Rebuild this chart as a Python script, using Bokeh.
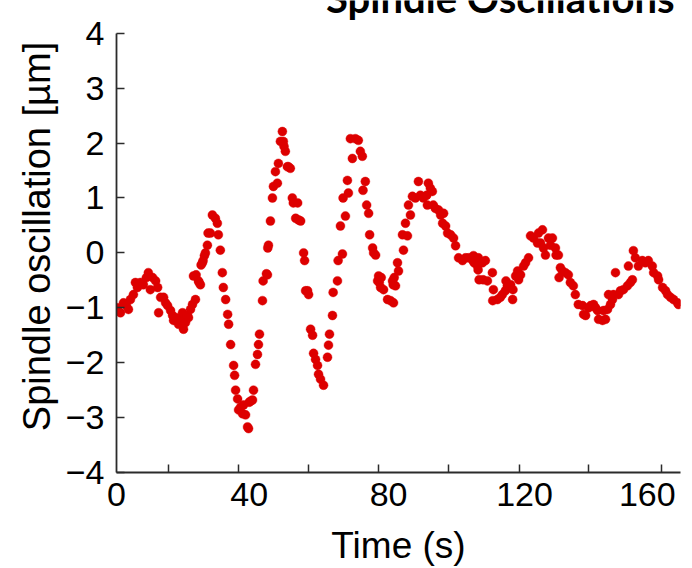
from bokeh.plotting import figure
from bokeh.models import Range1d, FixedTicker, Label
from bokeh.embed import file_html
from bokeh.resources import INLINE

# ---- data ----
time_s = [
    0.0, 0.3, 1.2, 2.1, 3.0, 3.6, 4.2, 5.1, 5.7, 6.3, 7.2, 8.1, 9.0, 9.6, 10.2, 10.9, 11.8, 12.4, 12.7, 13.3,
    14.2, 14.8, 15.4, 16.3, 16.9, 17.2, 18.1, 18.7, 19.3, 19.9, 20.2, 20.8, 21.4, 21.7, 22.3, 22.9, 23.2, 23.8,
    24.0, 24.7, 24.9, 25.3, 25.5, 25.9, 26.1, 26.5, 26.8, 27.4, 27.6, 28.3, 28.9, 29.8, 30.4, 30.7, 31.3, 31.9,
    32.2, 32.9, 33.5, 33.8, 34.4, 35.3, 35.6, 35.9, 36.5, 36.8, 37.4, 38.0, 38.3, 38.9, 39.5, 39.8, 40.0, 40.4,
    41.0, 41.3, 41.9, 42.5, 42.8, 43.1, 44.0, 44.2, 45.2, 45.5, 45.6, 45.8, 46.4, 47.0, 47.3, 47.9, 48.5, 48.8,
    49.4, 50.0, 50.3, 50.5, 50.9, 51.5, 51.8, 52.4, 53.0, 53.3, 54.0, 54.6, 54.9, 55.5, 56.4, 56.7, 57.0, 57.6,
    57.9, 58.5, 59.1, 59.4, 60.0, 60.6, 60.9, 61.5, 62.4, 63.6, 63.9, 64.2, 65.1, 65.3, 66.6, 66.8, 67.5, 68.1,
    68.3, 69.0, 69.6, 69.9, 70.5, 71.1, 72.0, 72.9, 73.5, 74.1, 74.3, 75.0, 75.4, 76.0, 76.3, 77.2, 77.5, 78.1,
    78.7, 79.0, 79.2, 79.6, 79.8, 80.5, 81.7, 82.6, 83.2, 83.4, 83.5, 83.7, 84.1, 84.7, 85.0, 86.2, 86.5, 87.1,
    87.7, 88.0, 88.6, 89.2, 90.1, 91.0, 91.6, 92.5, 93.5, 93.7, 94.0, 94.6, 95.2, 95.5, 96.1, 97.1, 97.7, 98.3,
    98.6, 99.2, 99.8, 100.7, 101.6, 102.2, 103.1, 104.3, 105.2, 106.1, 107.3, 107.6, 107.8, 108.8, 109.0, 109.1,
    109.3, 110.3, 110.5, 111.2, 111.8, 113.3, 113.4, 113.6, 114.8, 115.7, 116.3, 117.2, 117.4, 117.8, 118.8,
    119.4, 119.5, 120.3, 120.9, 121.2, 121.8, 122.7, 123.3, 124.2, 124.8, 125.7, 126.9, 127.2, 127.8, 128.4,
    128.7, 129.3, 130.2, 130.8, 131.4, 132.3, 132.5, 133.2, 133.4, 133.8, 134.4, 135.3, 136.2, 136.8, 137.7,
    138.3, 139.2, 140.5, 140.8, 141.4, 142.3, 142.9, 143.8, 144.4, 145.0, 145.3, 146.5, 146.8, 147.4, 148.0,
    148.3, 148.9, 149.5, 149.8, 150.4, 151.3, 151.9, 152.8, 154.0, 154.3, 154.9, 155.5, 155.8, 156.4, 157.3,
    158.5, 159.4, 160.3, 161.5, 161.9, 163.1, 163.4, 164.6, 165.5, 166.1, 167.0, 167.9, 169.1, 169.4,
]
oscillation_um = [
    -1.05, -1.00, -1.09, -0.91, -0.96, -1.03, -0.85, -0.76, -0.54, -0.63, -0.54, -0.58, -0.45, -0.36, -0.67, -0.45, -0.51, -0.63, -1.09, -0.81,
    -0.81, -0.91, -0.96, -1.05, -1.14, -1.23, -1.18, -1.30, -1.21, -1.09, -1.39, -1.27, -1.14, -1.18, -1.03, -0.94, -0.42, -0.85,
    -0.40, -0.51, -0.54, -0.58, -0.22, -0.18, -0.14, -0.05, 0.00, 0.14, 0.36, 0.36, 0.69, 0.63, 0.54, 0.33, 0.05, -0.36,
    -0.63, -0.85, -1.12, -1.30, -1.67, -2.05, -2.23, -2.50, -2.66, -2.86, -2.81, -2.93, -2.77, -2.95, -3.17, -3.20, -2.72, -2.70,
    -2.68, -2.50, -2.03, -1.85, -1.67, -1.48, -0.87, -0.51, -0.38, -0.40, 0.09, 0.14, 0.58, 1.00, 1.21, 1.48, 1.27, 1.63,
    2.03, 2.21, 2.03, 1.94, 1.85, 1.57, 1.57, 1.54, 1.00, 0.91, 0.63, 0.91, 0.60, 0.58, 0.00, -0.14, -0.69, -0.69,
    -0.76, -1.39, -1.50, -1.83, -1.94, -2.05, -2.21, -2.30, -2.41, -1.90, -1.68, -1.48, -1.14, -0.72, -0.51, -0.14, 0.49, -0.02,
    1.00, 0.67, 1.32, 1.09, 2.08, 1.72, 2.08, 2.05, 1.85, 1.76, 1.14, 1.30, 0.87, 0.72, 0.33, 0.09, 0.00, -0.04,
    -0.51, -0.42, -0.54, -0.63, -0.45, -0.67, -0.85, -0.87, -0.51, -0.58, -0.91, -0.45, -0.60, -0.18, -0.33, 0.33, 0.05, 0.54,
    0.31, 0.87, 0.69, 1.03, 1.00, 1.30, 1.05, 1.00, 1.05, 0.87, 1.27, 1.18, 1.12, 0.87, 0.81, 0.78, 0.69, 0.54,
    0.72, 0.49, 0.36, 0.33, 0.27, 0.13, -0.09, -0.14, -0.09, -0.09, -0.13, -0.05, -0.18, -0.24, -0.31, -0.09,
    -0.49, -0.18, -0.49, -0.14, -0.51, -0.36, -0.87, -0.67, -0.85, -0.81, -0.76, -0.69, -0.51, -0.60, -0.58,
    -0.85, -0.67, -0.42, -0.33, -0.49, -0.40, -0.24, -0.18, -0.09, 0.31, 0.27, 0.18, 0.36, 0.18, 0.42,
    0.09, -0.04, 0.27, 0.14, 0.27, 0.09, -0.04, -0.04, -0.45, -0.27, -0.33, -0.36, -0.40, -0.54, -0.60,
    -0.76, -0.94, -0.96, -1.12, -1.14, -1.00, -0.96, -0.94, -1.00, -1.05, -1.21, -1.23, -1.05, -1.21, -1.03,
    -0.76, -0.94, -0.85, -0.76, -0.36, -0.76, -0.69, -0.67, -0.60, -0.24, -0.54, -0.49, 0.04, -0.09, -0.24,
    -0.14, -0.18, -0.14, -0.24, -0.36, -0.42, -0.49, -0.63, -0.69, -0.76, -0.81, -0.85, -0.91, -0.94,
]

x_label_ticks = [0, 40, 82, 123, 160]
x_label_texts = ["0", "40", "80", "120", "160"]
x_mark_ticks = [15.7, 36.8, 57.9, 79.0, 100.1, 121.5, 142.3, 164.3]
y_ticks = [-4, -3, -2, -1, 0, 1, 2, 3, 4]
y_tick_texts = ["\u22124", "\u22123", "\u22122", "\u22121", "0", "1", "2", "3", "4"]

title_text = "Spindle Oscillations"
x_title = "Time (s)"
y_title = "Spindle oscillation [\u00b5m]"

# ---- figure ----
# The frame reaches the top edge (y up to 4.6) so the partly cut-off title can sit inside it;
# the left axis itself is bounded to -4..4.
p = figure(
    width=692, height=568,
    x_range=Range1d(0, 170), y_range=Range1d(-4, 4.597),
    output_backend="svg", toolbar_location=None,
    min_border_left=116, min_border_right=12, min_border_top=0, min_border_bottom=93,
)
p.background_fill_color = "white"
p.border_fill_color = "white"
p.outline_line_color = None
p.grid.visible = False

p.scatter(time_s, oscillation_um, size=9, fill_color="#DD0000", line_color="#DD0000",
          line_alpha=0.4, line_width=1)

axis_color = "#2b2b2b"
font = "Liberation Sans"

xa = p.xaxis[0]
xa.ticker = FixedTicker(ticks=x_label_ticks, minor_ticks=x_mark_ticks)
xa.major_label_overrides = {t: s for t, s in zip(x_label_ticks, x_label_texts)}
xa.major_tick_in = 0
xa.major_tick_out = 0
xa.minor_tick_in = 8
xa.minor_tick_out = 0
xa.minor_tick_line_color = axis_color
xa.minor_tick_line_width = 1.5
xa.axis_line_color = axis_color
xa.axis_line_width = 1.8
xa.major_label_standoff = 10
xa.major_label_text_font = font
xa.major_label_text_font_size = "34px"
xa.major_label_text_color = "black"
xa.axis_label = x_title
xa.axis_label_text_font = font
xa.axis_label_text_font_size = "37px"
xa.axis_label_text_font_style = "normal"
xa.axis_label_text_color = "black"
xa.axis_label_standoff = 16

ya = p.yaxis[0]
ya.bounds = (-4, 4)
ya.ticker = FixedTicker(ticks=y_ticks, minor_ticks=[])
ya.major_label_overrides = {t: s for t, s in zip(y_ticks, y_tick_texts)}
ya.major_tick_in = 8
ya.major_tick_out = 0
ya.major_tick_line_color = axis_color
ya.major_tick_line_width = 1.5
ya.minor_tick_line_color = None
ya.axis_line_color = axis_color
ya.axis_line_width = 1.8
ya.major_label_standoff = 12
ya.major_label_text_font = font
ya.major_label_text_font_size = "34px"
ya.major_label_text_color = "black"
ya.axis_label = y_title
ya.axis_label_text_font = font
ya.axis_label_text_font_size = "38px"
ya.axis_label_text_font_style = "normal"
ya.axis_label_text_color = "black"
ya.axis_label_standoff = 5

title = Label(x=168.2, y=4.639, x_units="data", y_units="data", text=title_text,
              text_align="right", text_baseline="middle",
              text_font="Lato", text_font_style="bold", text_font_size="40px",
              text_color="black")
p.add_layout(title)

open("out.html", "w").write(file_html(p, INLINE))
